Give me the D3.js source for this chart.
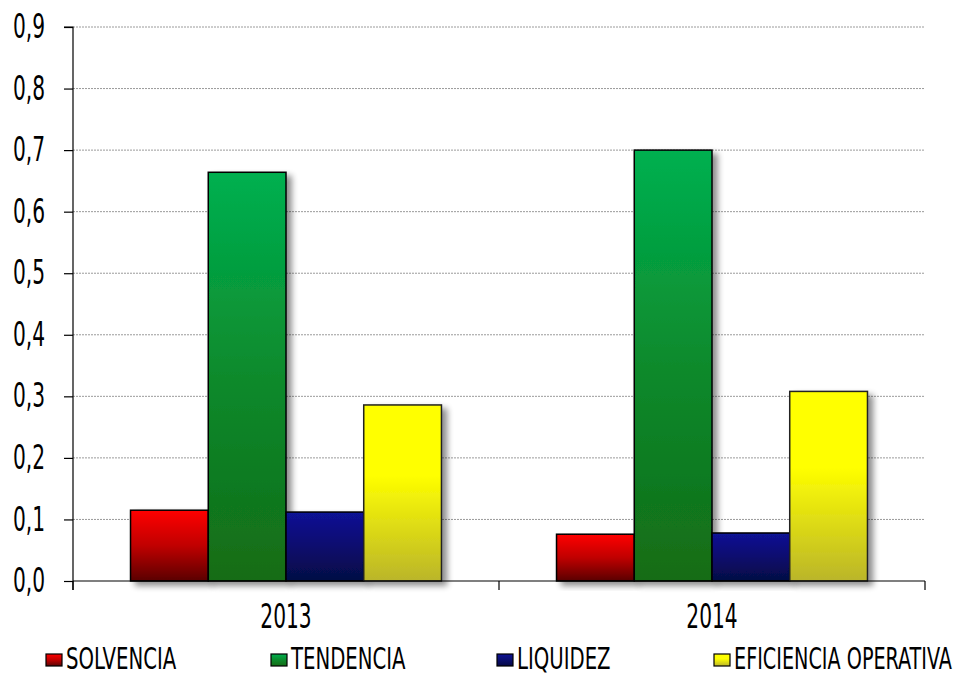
<!DOCTYPE html>
<html><head><meta charset="utf-8">
<script src="https://cdn.jsdelivr.net/npm/d3@7/dist/d3.min.js"></script>
<style>
body{margin:0;background:#fff;}
text{font-family:"DejaVu Sans Condensed","DejaVu Sans",sans-serif;}
</style></head>
<body>
<svg id="chart" width="956" height="677"></svg>
<script>
const categories = ["2013", "2014"];
const seriesNames = ["SOLVENCIA", "TENDENCIA", "LIQUIDEZ", "EFICIENCIA OPERATIVA"];
const solvencia = [0.115, 0.076];
const tendencia = [0.664, 0.700];
const liquidez = [0.112, 0.078];
const eficiencia = [0.286, 0.308];
const yTicks = [0, 0.1, 0.2, 0.3, 0.4, 0.5, 0.6, 0.7, 0.8, 0.9];

const seriesValues = [solvencia, tendencia, liquidez, eficiencia];
const grads = [
  {top:"#ff0000", mid:"#c00000", bot:"#5a0606", midAt:0.5},
  {top:"#00b050", mid:"#0c8a2c", bot:"#146c16", midAt:0.5},
  {top:"#0e1296", mid:"#0a0e6e", bot:"#050844", midAt:0.5},
  {top:"#ffff00", mid:"#ffff00", bot:"#bab52a", midAt:0.4}
];
const FS = 33, SX = 0.68;

const svg = d3.select("#chart");
const m = {left:73, right:925, top:27, bottom:581};
const x0 = d3.scaleBand().domain(categories).range([m.left, m.right]).paddingInner(0).paddingOuter(0);
const x1 = d3.scaleBand().domain(d3.range(4)).range([0, x0.bandwidth()]).paddingOuter(0.74).paddingInner(0);
const y = d3.scaleLinear().domain([0, 0.9]).range([m.bottom, m.top]);

const defs = svg.append("defs");
grads.forEach((g,i)=>{
  const lg = defs.append("linearGradient").attr("id","g"+i).attr("x1",0).attr("y1",0).attr("x2",0).attr("y2",1);
  lg.append("stop").attr("offset",0).attr("stop-color",g.top);
  lg.append("stop").attr("offset",g.midAt).attr("stop-color",g.mid);
  lg.append("stop").attr("offset",1).attr("stop-color",g.bot);
});
const f = defs.append("filter").attr("id","shadow").attr("x","-20%").attr("y","-10%").attr("width","150%").attr("height","130%");
f.append("feGaussianBlur").attr("in","SourceAlpha").attr("stdDeviation",3).attr("result","b");
f.append("feOffset").attr("in","b").attr("dx",5).attr("dy",4).attr("result","o");
f.append("feComponentTransfer").attr("in","o").attr("result","o2").append("feFuncA").attr("type","linear").attr("slope",0.45);
const fm = f.append("feMerge");
fm.append("feMergeNode").attr("in","o2");
fm.append("feMergeNode").attr("in","SourceGraphic");

// gridlines
svg.append("g").selectAll("line").data(yTicks.filter(d=>d>0)).join("line")
  .attr("x1", m.left).attr("x2", m.right).attr("y1", d=>y(d)).attr("y2", d=>y(d))
  .attr("stroke","#9a9a9a").attr("stroke-width",1).attr("stroke-dasharray","2,1");

// bars
const groups = svg.append("g").selectAll("g").data(categories).join("g")
  .attr("transform", d=>`translate(${x0(d)},0)`);
groups.each(function(cat, ci){
  const g = d3.select(this);
  seriesValues.forEach((vals, si)=>{
    g.append("rect")
      .attr("x", x1(si)).attr("width", x1.bandwidth())
      .attr("y", y(vals[ci])).attr("height", y(0)-y(vals[ci]))
      .attr("fill", `url(#g${si})`).attr("stroke", si===3?"#222":"#000").attr("stroke-width",1.5)
      .attr("filter","url(#shadow)");
  });
});

// y axis
const yAxis = d3.axisLeft(y).tickValues(yTicks).tickSize(9).tickPadding(19)
  .tickFormat(d=>d3.format(".1f")(d).replace(".",","));
const ya = svg.append("g").attr("transform",`translate(${m.left},0)`).call(yAxis);
ya.select(".domain").attr("stroke","#000").attr("stroke-width",1.2).attr("d",`M-9,${m.top}H0V${m.bottom+9}`);
ya.selectAll(".tick line").attr("stroke","#000").attr("stroke-width",1.2);
ya.selectAll(".tick text").attr("font-size",FS).attr("fill","#000")
  .attr("font-family",'"DejaVu Sans Condensed","DejaVu Sans",sans-serif')
  .each(function(){ const t=d3.select(this); const xx=+t.attr("x"); t.attr("transform",`scale(${SX},1)`).attr("x", xx/SX); });

// x axis
const xa = svg.append("g").attr("transform",`translate(0,${m.bottom})`);
xa.append("line").attr("x1",m.left).attr("x2",m.right).attr("y1",0).attr("y2",0).attr("stroke","#000").attr("stroke-width",1.2);
const bounds = [m.left].concat(categories.map(c=>x0(c)+x0.bandwidth()));
xa.selectAll("line.tk").data(bounds).join("line").attr("class","tk")
  .attr("x1",d=>d).attr("x2",d=>d).attr("y1",0).attr("y2",9).attr("stroke","#000").attr("stroke-width",1.2);
xa.selectAll("text").data(categories).join("text")
  .attr("transform", d=>`translate(${x0(d)+x0.bandwidth()/2},47) scale(${SX},1)`)
  .attr("text-anchor","middle").attr("font-size",FS).attr("fill","#000").text(d=>d);

// legend
const legX = [46, 271, 497, 714];
const leg = svg.append("g").selectAll("g").data(seriesNames).join("g")
  .attr("transform",(d,i)=>`translate(${legX[i]},654)`);
leg.append("rect").attr("x",0).attr("y",0).attr("width",16).attr("height",12)
  .attr("fill",(d,i)=>`url(#g${i})`).attr("stroke","#000").attr("stroke-width",1.2);
leg.append("text").attr("font-size",30).attr("fill","#000").text(d=>d)
  .each(function(d,i){
    const t = d3.select(this);
    const avail = (i<3 ? legX[i+1]-legX[i]-40 : 952-legX[i]-20);
    const w = this.getComputedTextLength();
    const s = Math.min(0.73, avail/w);
    t.attr("transform",`translate(20,15) scale(${s},1)`);
  });
</script>
</body></html>
